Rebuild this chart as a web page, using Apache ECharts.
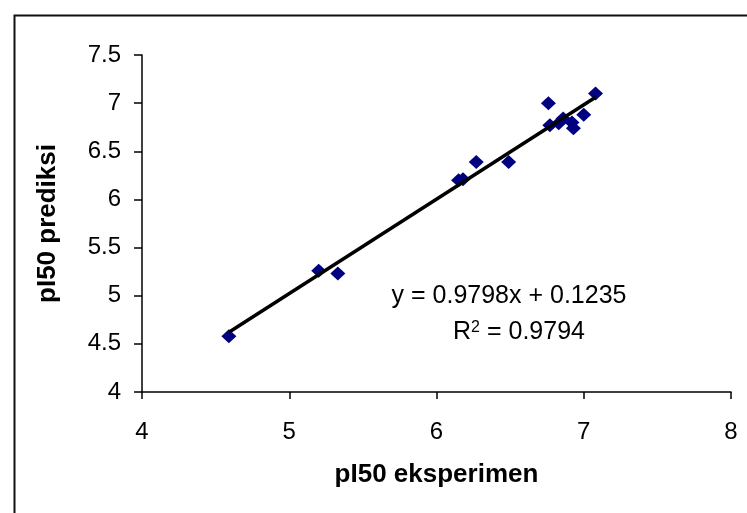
<!DOCTYPE html>
<html>
<head>
<meta charset="utf-8">
<script src="https://cdn.jsdelivr.net/npm/echarts@6/dist/echarts.min.js"></script>
<style>
html,body{margin:0;padding:0;background:#fff;}
#chart{width:747px;height:513px;}
</style>
</head>
<body>
<div id="chart"></div>
<script>
// Data
var expValues  = [4.59, 5.20, 5.33, 6.15, 6.18, 6.27, 6.49, 6.76, 6.77, 6.83, 6.86, 6.92, 6.93, 7.00, 7.08];
var predValues = [4.58, 5.26, 5.23, 6.20, 6.21, 6.39, 6.39, 7.00, 6.77, 6.79, 6.84, 6.80, 6.74, 6.88, 7.10];
var xTicks = [4, 5, 6, 7, 8];
var yTicks = [4, 4.5, 5, 5.5, 6, 6.5, 7, 7.5];
var slope = 0.9798;
var intercept = 0.1235;
var r2 = 0.9794;
var xTitle = 'pI50 eksperimen';
var yTitle = 'pI50 prediksi';

var FONT = 'Liberation Sans';

var scatterData = expValues.map(function (x, i) { return [x, predValues[i]]; });
var xMin = Math.min.apply(null, expValues);
var xMax = Math.max.apply(null, expValues);
var trendData = [[xMin, slope * xMin + intercept], [xMax, slope * xMax + intercept]];

var chart = echarts.init(document.getElementById('chart'), null, {renderer: 'canvas'});
var option = {
  backgroundColor: '#ffffff',
  animation: false,
  grid: {left: 142, right: 16, top: 55, bottom: 121, containLabel: false},
  xAxis: {
    type: 'value',
    min: xTicks[0], max: xTicks[xTicks.length - 1], interval: 1,
    name: xTitle, nameLocation: 'middle', nameGap: 70,
    nameTextStyle: {fontFamily: FONT, fontWeight: 'bold', fontSize: 26, color: '#000'},
    axisLine: {show: true, onZero: false, lineStyle: {color: '#000', width: 1.5}},
    axisTick: {show: true, length: 7, lineStyle: {color: '#000', width: 1.5}},
    axisLabel: {fontFamily: FONT, fontSize: 24, color: '#000', margin: 28},
    splitLine: {show: false}
  },
  yAxis: {
    type: 'value',
    min: yTicks[0], max: yTicks[yTicks.length - 1], interval: 0.5,
    name: yTitle, nameLocation: 'middle', nameGap: 81, nameRotate: 90,
    nameTextStyle: {fontFamily: FONT, fontWeight: 'bold', fontSize: 26, color: '#000'},
    axisLine: {show: true, onZero: false, lineStyle: {color: '#000', width: 1.5}},
    axisTick: {show: true, length: 8, lineStyle: {color: '#000', width: 1.5}},
    axisLabel: {fontFamily: FONT, fontSize: 24, color: '#000', margin: 21},
    splitLine: {show: false}
  },
  series: [
    {
      type: 'scatter',
      data: scatterData,
      symbol: 'diamond',
      symbolSize: [15, 14],
      itemStyle: {color: '#000080', opacity: 1},
      z: 2
    },
    {
      type: 'line',
      data: trendData,
      symbol: 'none',
      lineStyle: {color: '#000', width: 3.5},
      z: 3
    }
  ],
  graphic: [
    {
      type: 'rect', left: 12, top: 13, silent: true,
      shape: {width: 760, height: 520},
      style: {fill: 'none', stroke: '#111', lineWidth: 2}
    },
    {
      type: 'text', x: 509, y: 296, silent: true,
      style: {
        text: 'y = ' + slope.toFixed(4) + 'x + ' + intercept.toFixed(4),
        fontFamily: FONT, fontSize: 25, fill: '#000',
        align: 'center', verticalAlign: 'middle'
      }
    },
    {
      type: 'text', x: 519, y: 332, silent: true,
      style: {
        text: 'R{sup|2} = ' + r2.toFixed(4),
        fontFamily: FONT, fontSize: 25, fill: '#000',
        align: 'center', verticalAlign: 'middle',
        rich: {sup: {fontFamily: FONT, fontSize: 16, fill: '#000', verticalAlign: 'top', lineHeight: 25}}
      }
    }
  ]
};
chart.setOption(option);
</script>
</body>
</html>
